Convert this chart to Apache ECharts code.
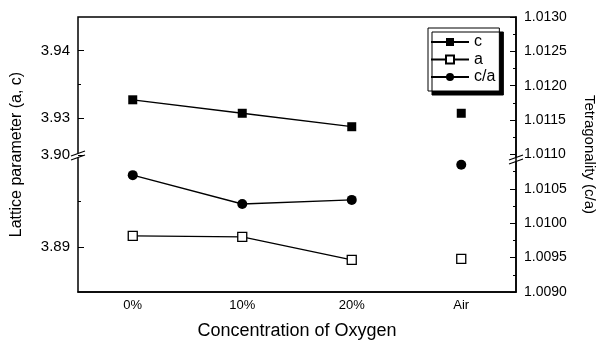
<!DOCTYPE html>
<html>
<head>
<meta charset="utf-8">
<script src="https://cdn.jsdelivr.net/npm/echarts@6/dist/echarts.min.js"></script>
<style>
  html, body { margin: 0; padding: 0; background: #fff; }
  #chart { width: 601px; height: 340px; }
</style>
</head>
<body>
<div id="chart"></div>
<script>
// categories
var concentration = ['0%', '10%', '20%', 'Air'];

// lattice parameters (left axis, broken)
var cValues = [3.9327, 3.9307, 3.9287, 3.9307];
var aValues = [3.8912, 3.8911, 3.8886, 3.8887];
// tetragonality (right axis)
var caValues = [1.0107, 1.01028, 1.01034, 1.01085];

// tick labels / tick positions of the broken left axis
var upperLabels = [3.93, 3.94];
var upperMinor = [3.935];
var lowerLabels = [3.89, 3.90];
var lowerMinor = [3.895];

var FONT = 'Liberation Sans';

// the three samples are joined by a line, "Air" stands alone
function lined(arr) {
  return arr.map(function (v, i) { return i < 3 ? v : '-'; });
}
function alone(arr) {
  return arr.map(function (v, i) { return i === 3 ? v : '-'; });
}

var chart = echarts.init(document.getElementById('chart'));

var sqFilled = { color: '#000', opacity: 1 };
var sqHollow = { color: '#fff', borderColor: '#000', borderWidth: 1.3, opacity: 1 };
var dot = { color: '#000', opacity: 1 };
var lineSt = { color: '#000', width: 1.3 };

function breakMark(x, y) {
  return {
    type: 'group', x: x, y: y, z: 100,
    children: [
      { type: 'polygon', shape: { points: [[-7, 3], [7, -2], [7, 2], [-7, 7]] }, style: { fill: '#fff' } },
      { type: 'line', shape: { x1: -7, y1: 3, x2: 7, y2: -2 }, style: { stroke: '#000', lineWidth: 1.3 } },
      { type: 'line', shape: { x1: -7, y1: 7, x2: 7, y2: 2 }, style: { stroke: '#000', lineWidth: 1.3 } }
    ]
  };
}

// left axis segment: labelled major ticks + shorter minor ticks (second, bare axis)
function leftMajor(grid, min, max, labels) {
  return {
    type: 'value', gridIndex: grid, position: 'left', min: min, max: max,
    axisLine: { show: false },
    axisTick: { show: true, inside: true, length: 6, customValues: labels, lineStyle: { color: '#000' } },
    splitLine: { show: false },
    axisLabel: { fontFamily: FONT, fontSize: 15, color: '#000', margin: 8, customValues: labels,
      formatter: function (v) { return v.toFixed(2); } }
  };
}
function leftMinor(grid, min, max, ticks) {
  return {
    type: 'value', gridIndex: grid, position: 'left', min: min, max: max,
    axisLine: { show: false }, axisLabel: { show: false }, splitLine: { show: false },
    axisTick: { show: true, inside: true, length: 3, customValues: ticks, lineStyle: { color: '#000' } }
  };
}
function catTicks(grid, pos, centred, len) {
  return {
    type: 'category', gridIndex: grid, data: concentration, position: pos,
    axisLine: { show: false },
    axisTick: { inside: true, alignWithLabel: centred, length: len, lineStyle: { color: '#000' } },
    axisLabel: { show: false }
  };
}

var option = {
  animation: false,
  backgroundColor: '#fff',
  textStyle: { fontFamily: FONT, color: '#000' },
  grid: [
    { left: 78, right: 85, top: 17, bottom: 48, outerBoundsMode: 'none', containLabel: false,
      show: true, borderColor: '#000', borderWidth: 1.5, backgroundColor: 'transparent' },
    { left: 78, right: 85, top: 17, height: 138, outerBoundsMode: 'none', containLabel: false },
    { left: 78, right: 85, top: 155, bottom: 48, outerBoundsMode: 'none', containLabel: false }
  ],
  legend: {
    orient: 'vertical',
    left: 428,
    top: 28,
    data: ['c', 'a', 'c/a'],
    itemWidth: 38,
    itemHeight: 10,
    itemGap: 1.5,
    padding: [6, 4, 6, 2],
    backgroundColor: '#fff',
    borderColor: '#000',
    borderWidth: 1,
    shadowColor: '#000',
    shadowOffsetX: 4,
    shadowOffsetY: 4,
    shadowBlur: 0,
    textStyle: { fontFamily: FONT, fontSize: 16, color: '#000' }
  },
  xAxis: [
    {
      type: 'category', gridIndex: 0, data: concentration,
      axisLine: { lineStyle: { color: '#000', width: 1.5 } },
      axisTick: { inside: true, alignWithLabel: true, length: 6, lineStyle: { color: '#000' } },
      axisLabel: { fontFamily: FONT, fontSize: 13, color: '#000', margin: 7 },
      name: 'Concentration of Oxygen', nameLocation: 'middle', nameGap: 30,
      nameTextStyle: { fontFamily: FONT, fontSize: 18, color: '#000' }
    },
    catTicks(1, 'top', true, 6),
    catTicks(2, 'bottom', false, 3),
    catTicks(1, 'top', false, 3)
  ],
  yAxis: [
    {
      type: 'value', gridIndex: 0, position: 'right',
      min: 1.0090, max: 1.0130, interval: 0.0005,
      axisLine: { show: true, lineStyle: { color: '#000', width: 1.5 } },
      axisTick: { show: true, inside: true, length: 6, lineStyle: { color: '#000' } },
      minorTick: { show: true, splitNumber: 2, length: 3, lineStyle: { color: '#000' } },
      splitLine: { show: false },
      axisLabel: { fontFamily: FONT, fontSize: 14, color: '#000', margin: 8,
        formatter: function (v) { return v.toFixed(4); } },
      name: 'Tetragonality (c/a)', nameLocation: 'middle', nameGap: 66, nameRotate: -90,
      nameTextStyle: { fontFamily: FONT, fontSize: 15, color: '#000' }
    },
    {
      type: 'value', gridIndex: 0, position: 'left', min: 0, max: 1,
      axisLine: { show: false }, axisTick: { show: false }, axisLabel: { show: false },
      splitLine: { show: false },
      name: 'Lattice parameter (a, c)', nameLocation: 'middle', nameGap: 53,
      nameTextStyle: { fontFamily: FONT, fontSize: 16, color: '#000' }
    },
    leftMajor(1, 3.9245, 3.945, upperLabels),
    leftMajor(2, 3.8851, 3.90, lowerLabels),
    leftMinor(1, 3.9245, 3.945, upperMinor),
    leftMinor(2, 3.8851, 3.90, lowerMinor)
  ],
  series: [
    { name: 'c', type: 'line', xAxisIndex: 1, yAxisIndex: 2, data: lined(cValues),
      symbol: 'rect', symbolSize: 9, itemStyle: sqFilled, lineStyle: lineSt, z: 3 },
    { name: 'c (Air)', type: 'scatter', xAxisIndex: 1, yAxisIndex: 2, data: alone(cValues),
      symbol: 'rect', symbolSize: 9, itemStyle: sqFilled, z: 3 },
    { name: 'a', type: 'line', xAxisIndex: 2, yAxisIndex: 3, data: lined(aValues),
      symbol: 'rect', symbolSize: 9, showAllSymbol: true, itemStyle: sqHollow, lineStyle: lineSt, z: 3 },
    { name: 'a (Air)', type: 'scatter', xAxisIndex: 2, yAxisIndex: 3, data: alone(aValues),
      symbol: 'rect', symbolSize: 9, itemStyle: sqHollow, z: 3 },
    { name: 'c/a', type: 'line', xAxisIndex: 0, yAxisIndex: 0, data: lined(caValues),
      symbol: 'circle', symbolSize: 10, itemStyle: dot, lineStyle: lineSt, z: 3 },
    { name: 'c/a (Air)', type: 'scatter', xAxisIndex: 0, yAxisIndex: 0, data: alone(caValues),
      symbol: 'circle', symbolSize: 10, itemStyle: dot, z: 3 }
  ],
  graphic: [breakMark(78, 153), breakMark(516, 157)]
};

chart.setOption(option);
</script>
</body>
</html>
